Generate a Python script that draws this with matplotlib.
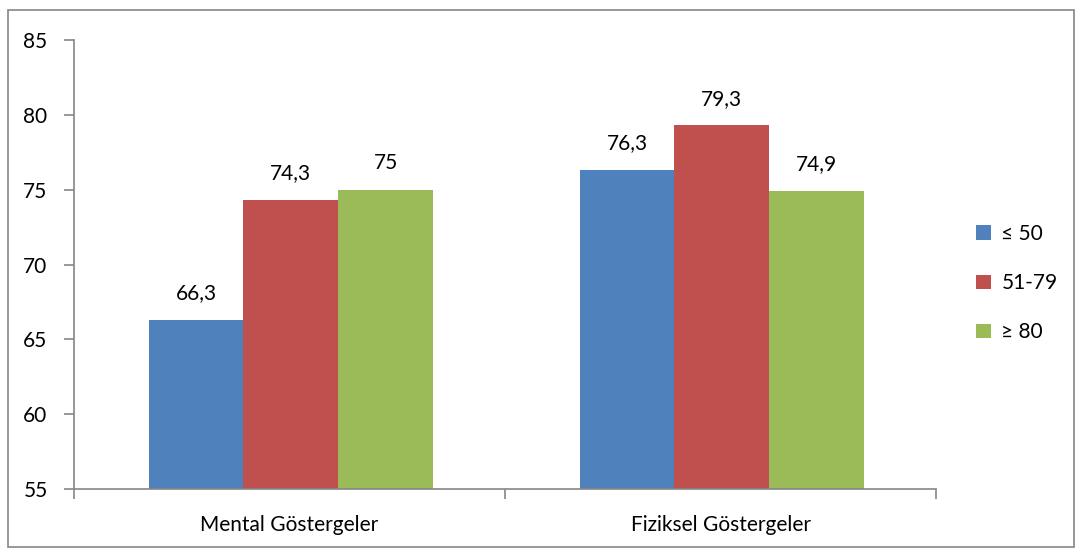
import matplotlib.pyplot as plt
from matplotlib.patches import Rectangle
import numpy as np

categories = ["Mental Göstergeler", "Fiziksel Göstergeler"]
series = ["≤ 50", "51-79", "≥ 80"]
values = {
    "≤ 50": [66.3, 76.3],
    "51-79": [74.3, 79.3],
    "≥ 80": [75.0, 74.9],
}
value_labels = {
    "≤ 50": ["66,3", "76,3"],
    "51-79": ["74,3", "79,3"],
    "≥ 80": ["75", "74,9"],
}
colors = ["#4F81BD", "#C0504D", "#9BBB59"]

plt.rcParams["font.family"] = ["Lato", "DejaVu Sans"]
axis_color = "#868686"
fs = 15

fig = plt.figure(figsize=(10.82, 5.52), dpi=100)
ax = fig.add_axes([0.0684, 0.1141, 0.7967, 0.8134])

# outer chart border
fig.patches.append(Rectangle((8 / 1082, 5 / 552), 1066 / 1082, 537 / 552,
                             transform=fig.transFigure, fill=False,
                             edgecolor=axis_color, linewidth=1.2))

x = np.arange(len(categories))
width = 0.22
for i, s in enumerate(series):
    pos = x + (i - 1) * width + 0.003
    ax.bar(pos, values[s], width, bottom=0, color=colors[i], label=s, zorder=2)
    for p, v, t in zip(pos, values[s], value_labels[s]):
        ax.annotate(t, (p, v), xytext=(0, 12), textcoords="offset points",
                    ha="center", va="bottom", fontsize=fs)

ax.set_ylim(55, 85)
ax.set_xlim(-0.5, 1.5)
ax.set_yticks(range(55, 86, 5))
ax.set_xticks([-0.5, 0.5, 1.5])
ax.set_xticklabels([])
ax.set_xticks(x, minor=True)
ax.set_xticklabels(categories, minor=True, fontsize=fs)
ax.tick_params(axis="x", which="minor", length=0, pad=19)
ax.tick_params(axis="x", which="major", length=7, color=axis_color, width=1.2)
ax.tick_params(axis="y", length=7, color=axis_color, width=1.2, labelsize=fs, pad=12)

for side in ["top", "right"]:
    ax.spines[side].set_visible(False)
for side in ["left", "bottom"]:
    ax.spines[side].set_color(axis_color)
    ax.spines[side].set_linewidth(1.2)

leg = fig.legend(loc="center left", bbox_to_anchor=(0.885, 0.487), frameon=False,
                 fontsize=fs, handlelength=0.7, handleheight=0.7,
                 handletextpad=0.5, labelspacing=1.4)

fig.savefig("out.png", dpi=100)
